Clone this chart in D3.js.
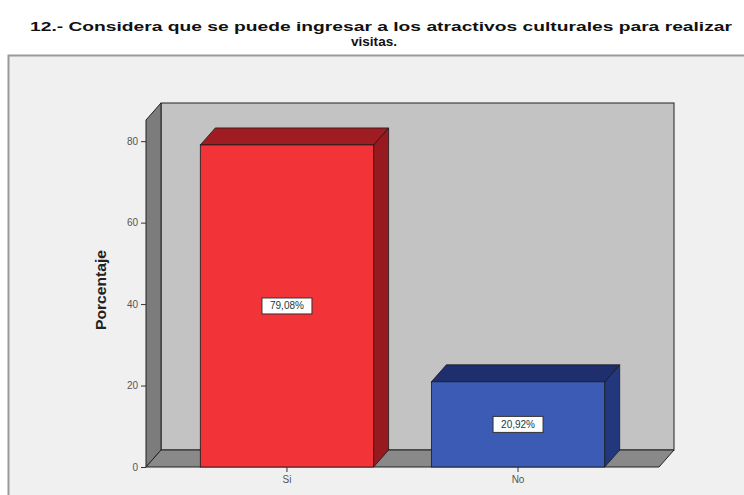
<!DOCTYPE html>
<html><head><meta charset="utf-8">
<script src="https://cdn.jsdelivr.net/npm/d3@7"></script>
<style>body{margin:0;background:#fff;}svg{display:block;}</style>
</head><body>
<svg id="c" width="744" height="495"></svg>
<script>
const titleLines = ["12.- Considera que se puede ingresar a los atractivos culturales para realizar", "visitas."];
const categories = ["Si", "No"];
const values = [79.08, 20.92];
const valueLabels = ["79,08%", "20,92%"];
const yTicks = [0, 20, 40, 60, 80];
const yLabel = "Porcentaje";

const svg = d3.select("#c");
const dx = 15, dy = -17;
const x0 = 146, x1 = 659, yBase = 467, yTopFront = 120;
const front = ["#f23338", "#3b5bb4"];
const topC = ["#9e1c22", "#1f2f6e"];
const sideC = ["#961a1f", "#23387c"];
const font = "Arial, 'Liberation Sans', sans-serif";

// outer frame
svg.append("rect").attr("x", 8.5).attr("y", 55.5).attr("width", 740).attr("height", 445)
  .attr("fill", "#f0f0f0").attr("stroke", "#9a9a9a").attr("stroke-width", 2);

// title
const t = svg.append("text").attr("font-family", font)
  .attr("font-weight", "bold").attr("font-size", 13).attr("fill", "#111").attr("text-anchor", "middle");
t.append("tspan").attr("x", 381).attr("y", 31).attr("textLength", 702).attr("lengthAdjust", "spacingAndGlyphs").text(titleLines[0]);
t.append("tspan").attr("x", 374).attr("y", 46).attr("textLength", 46).attr("lengthAdjust", "spacingAndGlyphs").text(titleLines[1]);

const y = d3.scaleLinear().domain([0, 85.2]).range([yBase, yTopFront]);
const x = d3.scaleBand().domain(categories).range([x0, x1]).paddingInner(0.25).paddingOuter(0.235);

// back wall
svg.append("rect").attr("x", x0 + dx).attr("y", yTopFront + dy).attr("width", x1 - x0).attr("height", yBase - yTopFront)
  .attr("fill", "#c3c3c3").attr("stroke", "#222").attr("stroke-width", 1);
// left side wall
svg.append("polygon").attr("points", [[x0, yBase], [x0, yTopFront], [x0 + dx, yTopFront + dy], [x0 + dx, yBase + dy]].join(" "))
  .attr("fill", "#7c7c7c").attr("stroke", "#222").attr("stroke-width", 1);
// floor
svg.append("polygon").attr("points", [[x0, yBase], [x1, yBase], [x1 + dx, yBase + dy], [x0 + dx, yBase + dy]].join(" "))
  .attr("fill", "#898989").attr("stroke", "#222").attr("stroke-width", 1);

// bars
const g = svg.append("g");
categories.forEach((c, i) => {
  const bx = x(c), bw = x.bandwidth(), by = y(values[i]);
  g.append("polygon").attr("points", [[bx + bw, yBase], [bx + bw, by], [bx + bw + dx, by + dy], [bx + bw + dx, yBase + dy]].join(" "))
    .attr("fill", sideC[i]).attr("stroke", "#1a1a1a").attr("stroke-width", 0.8);
  g.append("polygon").attr("points", [[bx, by], [bx + bw, by], [bx + bw + dx, by + dy], [bx + dx, by + dy]].join(" "))
    .attr("fill", topC[i]).attr("stroke", "#1a1a1a").attr("stroke-width", 0.8);
  g.append("rect").attr("x", bx).attr("y", by).attr("width", bw).attr("height", yBase - by)
    .attr("fill", front[i]).attr("stroke", "#1a1a1a").attr("stroke-width", 0.8);
  const cx = bx + bw / 2, cy = y(values[i] / 2);
  g.append("rect").attr("x", cx - 25).attr("y", cy - 8).attr("width", 50).attr("height", 16)
    .attr("fill", "#fff").attr("stroke", "#333").attr("stroke-width", 1);
  g.append("text").attr("x", cx).attr("y", cy + 3.5).attr("text-anchor", "middle")
    .attr("font-family", font).attr("font-size", 10).attr("fill", "#1a3a3a")
    .text(valueLabels[i]);
});

// y axis
const yAxis = d3.axisLeft(y).tickValues(yTicks).tickSize(5).tickPadding(3).tickFormat(d3.format("d"));
const ya = svg.append("g").attr("transform", `translate(${x0},0)`).call(yAxis);
ya.select(".domain").remove();
ya.selectAll("line").attr("stroke", "#333");
ya.selectAll("text").attr("font-family", font).attr("font-size", 10).attr("fill", "#555");

// x axis
const xAxis = d3.axisBottom(x).tickSize(5).tickPadding(4);
const xa = svg.append("g").attr("transform", `translate(0,${yBase})`).call(xAxis);
xa.select(".domain").remove();
xa.selectAll("line").attr("stroke", "#333");
xa.selectAll("text").attr("font-family", font).attr("font-size", 10).attr("fill", "#555");

// y label
svg.append("text").attr("transform", `translate(106,290) rotate(-90)`).attr("text-anchor", "middle")
  .attr("font-family", font).attr("font-weight", "bold").attr("font-size", 14).attr("fill", "#222")
  .attr("textLength", 80).attr("lengthAdjust", "spacingAndGlyphs")
  .text(yLabel);
</script>
</body></html>
